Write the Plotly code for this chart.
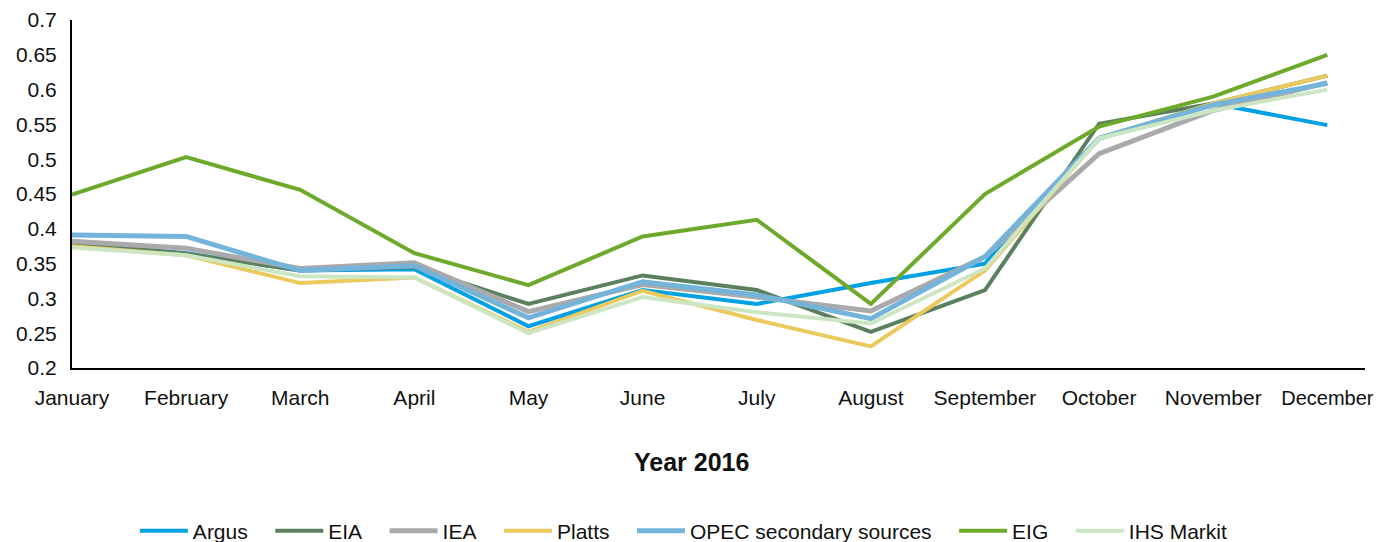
import plotly.graph_objects as go

months = ["January", "February", "March", "April", "May", "June", "July",
          "August", "September", "October", "November", "December"]

argus = [0.379, 0.365, 0.340, 0.342, 0.260, 0.312, 0.292, 0.322, 0.350, 0.530, 0.580, 0.549]
eia = [0.380, 0.364, 0.340, 0.345, 0.292, 0.333, 0.312, 0.252, 0.312, 0.551, 0.580, 0.620]
iea = [0.382, 0.372, 0.343, 0.351, 0.281, 0.320, 0.302, 0.282, 0.360, 0.508, 0.570, 0.610]
platts = [0.375, 0.362, 0.322, 0.330, 0.252, 0.311, 0.269, 0.231, 0.340, 0.530, 0.580, 0.620]
opec = [0.391, 0.389, 0.340, 0.347, 0.272, 0.324, 0.305, 0.271, 0.360, 0.530, 0.578, 0.609]
eig = [0.449, 0.503, 0.456, 0.365, 0.319, 0.389, 0.413, 0.292, 0.450, 0.547, 0.590, 0.650]
ihs = [0.373, 0.362, 0.332, 0.330, 0.250, 0.302, 0.280, 0.264, 0.343, 0.530, 0.570, 0.600]

series = [
    ("Argus", argus, "#00a1e4", 4),
    ("EIA", eia, "#5b8060", 4),
    ("IEA", iea, "#aaa9ab", 5),
    ("Platts", platts, "#ebc95c", 4),
    ("OPEC secondary sources", opec, "#74b4db", 5),
    ("EIG", eig, "#6daa2c", 4),
    ("IHS Markit", ihs, "#cce6c4", 4),
]

x_title = "Year 2016"

x_idx = list(range(len(months)))
pad = "&nbsp;" * 3
tick_text = [m if m != "December" else "<span style='font-size:20px'>December</span>"
             for m in months]

fig = go.Figure()
for i, (name, vals, color, w) in enumerate(series):
    label = name + (pad if i < len(series) - 1 else "")
    fig.add_trace(go.Scatter(x=x_idx, y=vals, name=label, mode="lines",
                             line=dict(color=color, width=w)))

font_family = "Liberation Sans, Arial, sans-serif"
fig.update_layout(
    width=1376, height=542,
    margin=dict(l=72, r=11, t=20, b=174, autoexpand=False),
    plot_bgcolor="white", paper_bgcolor="white",
    font=dict(family=font_family, size=21, color="#111111"),
    showlegend=True,
    legend=dict(orientation="h", x=0.497, xanchor="center", xref="container",
                y=0.02, yanchor="middle", yref="container",
                font=dict(size=21), itemwidth=48, traceorder="normal"),
    xaxis=dict(
        tickmode="array", tickvals=x_idx, ticktext=tick_text,
        range=[0, 11.33], showgrid=False, zeroline=False,
        showline=True, linecolor="black", linewidth=2,
        ticks="", ticklabelstandoff=10, ticklabeloverflow="allow",
    ),
    yaxis=dict(
        range=[0.2, 0.7], dtick=0.05, tick0=0.2, showgrid=False, zeroline=False,
        showline=True, linecolor="black", linewidth=2, ticks="",
        ticklabelstandoff=9,
    ),
    annotations=[dict(
        text="<b>" + x_title + "</b>", xref="paper", yref="paper",
        x=0.479, y=-0.270, xanchor="center", yanchor="middle",
        showarrow=False, font=dict(size=25, color="#111111"),
    )],
)

fig.write_html(
    "out.html",
    config={"displayModeBar": False},
    post_script="document.body.style.margin='0';document.body.style.overflow='hidden';",
)
